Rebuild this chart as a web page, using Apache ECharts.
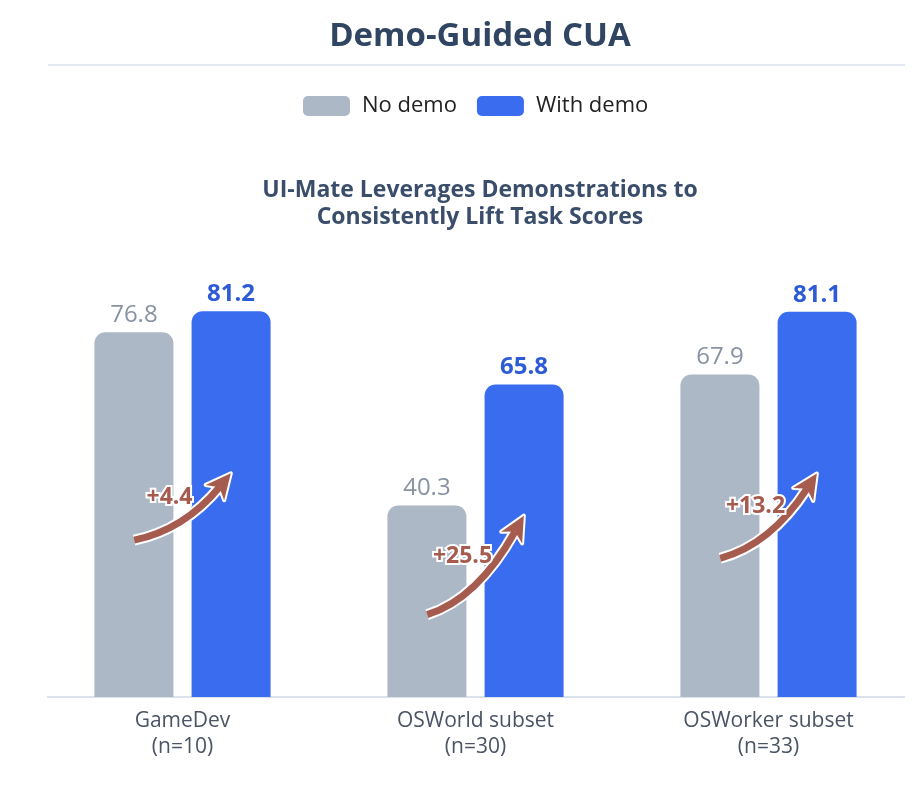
<!DOCTYPE html>
<html lang="en">
<head>
  <meta charset="UTF-8" />
  <title>Demo-Guided CUA</title>
  <script src="https://cdn.jsdelivr.net/npm/echarts@6.0.0/dist/echarts.min.js"></script>
  <style>
    html, body { margin: 0; padding: 0; background: #fff; }
  </style>
</head>
<body>
  <div id="main" style="width:920px; height:788px;"></div>
  <script type="text/javascript">
    // data
    const categories = ['GameDev\n(n=10)', 'OSWorld subset\n(n=30)', 'OSWorker subset\n(n=33)'];
    const noDemo = [76.8, 40.3, 67.9];
    const withDemo = [81.2, 65.8, 81.1];

    const grayColor = '#adb8c6';
    const blueColor = '#3a6cf0';
    const arrowColor = '#a65b4f';
    const fontFamily = '"Open Sans", Roboto, sans-serif';

    // arrow rows: [category index, no demo, with demo]
    const arrowData = categories.map((c, i) => [i, noDemo[i], withDemo[i]]);

    function renderArrow(params, api) {
      const i = api.value(0), lo = api.value(1), hi = api.value(2);
      const band = api.size([1, 0])[0];
      const off = band * 0.165;
      const a = api.coord([i, lo * 0.43]);
      const b = api.coord([i, hi * 0.58]);
      const s = [a[0] - off, a[1]];
      const e = [b[0] + off, b[1]];
      const dx = e[0] - s[0], dy = s[1] - e[1];
      const cp = [s[0] + dx * 0.52, s[1] - dy * 0.16];
      // arrow head along the end tangent
      let tx = e[0] - cp[0], ty = e[1] - cp[1];
      const len = Math.sqrt(tx * tx + ty * ty);
      tx /= len; ty /= len;
      const nx = -ty, ny = tx;
      const L = 25, W = 12;
      const base = [e[0] - tx * L, e[1] - ty * L];
      const notch = [e[0] - tx * L * 0.72, e[1] - ty * L * 0.72];
      const head = [e, [base[0] + nx * W, base[1] + ny * W], notch, [base[0] - nx * W, base[1] - ny * W]];
      const curve = { x1: s[0], y1: s[1], x2: notch[0], y2: notch[1], cpx1: cp[0], cpy1: cp[1] };
      const mid = [(s[0] + e[0]) / 2 - 13, (s[1] + e[1]) / 2 - 9];
      const delta = (hi - lo).toFixed(1);
      return {
        type: 'group',
        children: [
          { type: 'bezierCurve', shape: curve, style: { stroke: '#fff', lineWidth: 11, fill: null } },
          { type: 'polygon', shape: { points: head }, style: { fill: '#fff', stroke: '#fff', lineWidth: 4, lineJoin: 'round' } },
          { type: 'bezierCurve', shape: curve, style: { stroke: arrowColor, lineWidth: 7, fill: null } },
          { type: 'polygon', shape: { points: head }, style: { fill: arrowColor } },
          {
            type: 'text',
            x: mid[0], y: mid[1],
            style: {
              text: '+' + delta, fill: arrowColor, font: 'bold 23px ' + fontFamily,
              align: 'center', verticalAlign: 'middle', stroke: '#fff', lineWidth: 4
            }
          }
        ]
      };
    }

    const myChart = echarts.init(document.getElementById('main'));
    myChart.setOption({
      backgroundColor: '#fff',
      animation: false,
      title: [
        {
          text: 'Demo-Guided CUA',
          left: 475, top: 15, textAlign: 'center',
          textStyle: { fontSize: 33, fontWeight: 'bold', color: '#2f4562', fontFamily: fontFamily }
        },
        {
          text: 'UI-Mate Leverages Demonstrations to\nConsistently Lift Task Scores',
          left: 475, top: 172, textAlign: 'center',
          textStyle: { fontSize: 23, fontWeight: 'bold', color: '#3a4e6c', lineHeight: 27, fontFamily: fontFamily }
        }
      ],
      graphic: [
        { type: 'line', shape: { x1: 48, y1: 65, x2: 905, y2: 65 }, style: { stroke: '#e4e8f1', lineWidth: 2 } },
        { type: 'line', shape: { x1: 47, y1: 697, x2: 905, y2: 697 }, style: { stroke: '#dbe2ec', lineWidth: 2 }, z: 1 }
      ],
      legend: {
        left: 298, top: 90,
        icon: 'roundRect',
        itemWidth: 47, itemHeight: 20, itemGap: 20,
        textStyle: { fontSize: 22, color: '#222', fontFamily: fontFamily, padding: [0, 0, 0, 7] },
        data: ['No demo', 'With demo']
      },
      grid: { left: 36, right: 5, top: 222, bottom: 91 },
      xAxis: {
        type: 'category',
        data: categories,
        axisLine: { show: false },
        axisTick: { show: false },
        axisLabel: { fontSize: 21, color: '#4a5465', lineHeight: 26, margin: 11, fontFamily: fontFamily }
      },
      yAxis: { type: 'value', min: 0, max: 100, show: false },
      series: [
        {
          name: 'No demo', type: 'bar', data: noDemo,
          barWidth: 79, barGap: '23%',
          itemStyle: { color: grayColor, borderRadius: [11, 11, 0, 0] },
          label: { show: true, position: 'top', distance: 5, fontSize: 24, color: '#8892a3', fontFamily: fontFamily }
        },
        {
          name: 'With demo', type: 'bar', data: withDemo,
          barWidth: 79,
          itemStyle: { color: blueColor, borderRadius: [11, 11, 0, 0] },
          label: { show: true, position: 'top', distance: 5, fontSize: 24, fontWeight: 'bold', color: '#2d5bd6', fontFamily: fontFamily }
        },
        {
          type: 'custom', data: arrowData, z: 5,
          encode: { x: 0, y: 2 },
          renderItem: renderArrow,
          silent: true
        }
      ]
    });
  </script>
</body>
</html>
